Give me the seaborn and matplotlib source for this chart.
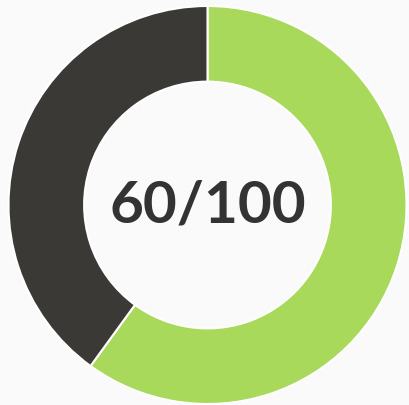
import matplotlib
matplotlib.use('Agg')
import matplotlib.pyplot as plt
import seaborn as sns

# ─────────────────────────────────────────
# DATA
# ─────────────────────────────────────────
labels = ['Score', 'Remaining']
values = [60, 40]
colors = ['#a8d95b', '#3b3935']
center_text = '60/100'

sns.set_theme(style='white')
plt.rcParams['font.family'] = ['Lato', 'DejaVu Sans']

fig = plt.figure(figsize=(4.09, 4.06), dpi=100, facecolor='#fafafa')
ax = fig.add_axes([0, 0, 1, 1])
ax.set_facecolor('#fafafa')

# donut, clockwise from 12 o'clock
ax.pie(values, colors=colors, startangle=90, counterclock=False,
       radius=1.0,
       wedgeprops=dict(width=0.38, edgecolor='white', linewidth=1.5))

ax.text(0, 0, center_text, ha='center', va='center',
        fontsize=42, fontweight='bold', color='#333333')

# place the ring centre / radius like the reference
ax.set_xlim(-207.5 / 199, (409 - 207.5) / 199)
ax.set_ylim(-(406 - 206) / 199, 206 / 199)
ax.set_aspect('auto')
ax.axis('off')

plt.savefig('out.png', dpi=100, facecolor=fig.get_facecolor())
